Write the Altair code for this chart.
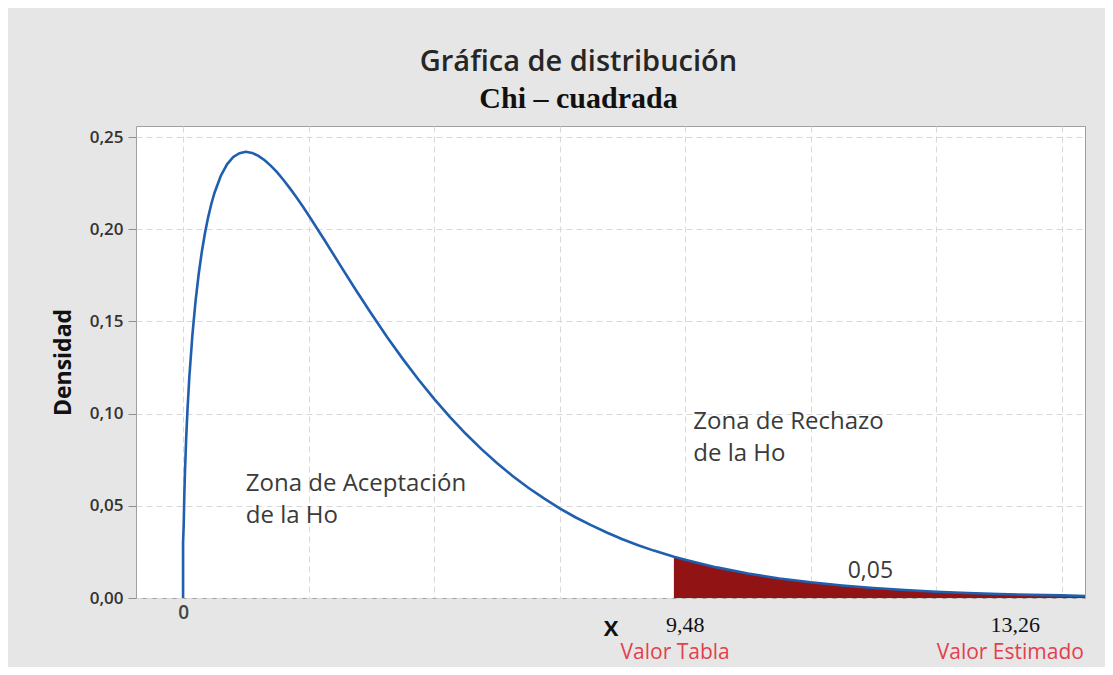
import altair as alt
import pandas as pd

# Values (x, density)
x_vals = [0.0, 0.0, 0.01, 0.02, 0.03, 0.05, 0.07, 0.1, 0.15, 0.2, 0.25, 0.3, 0.35,
          0.4, 0.45, 0.5, 0.6, 0.7, 0.8, 0.9, 1.0, 1.1, 1.2, 1.3, 1.4, 1.5, 1.6,
          1.7, 1.8, 1.9, 2.0, 2.25, 2.5, 2.75, 3.0, 3.25, 3.5, 3.75, 4.0, 4.25,
          4.5, 4.75, 5.0, 5.25, 5.5, 5.75, 6.0, 6.25, 6.5, 6.75, 7.0, 7.25, 7.5,
          7.82, 8.0, 8.5, 9.0, 9.5, 10.0, 10.5, 11.0, 11.5, 12.0, 12.5, 13.0,
          13.5, 14.0, 14.37]
dens_vals = [0.0, 0.030, 0.0397, 0.0559, 0.0681, 0.0870, 0.1019, 0.1200, 0.1433,
             0.1614, 0.1760, 0.1881, 0.1981, 0.2066, 0.2137, 0.2197, 0.2289,
             0.2352, 0.2392, 0.2413, 0.2420, 0.2414, 0.2398, 0.2374, 0.2344,
             0.2308, 0.2267, 0.2223, 0.2176, 0.2127, 0.2076, 0.1943, 0.1807,
             0.1672, 0.1542, 0.1416, 0.1297, 0.1185, 0.1080, 0.0982, 0.0892,
             0.0809, 0.0732, 0.0662, 0.0598, 0.0540, 0.0486, 0.0438, 0.0395,
             0.0355, 0.0319, 0.0286, 0.0257, 0.0224, 0.0207, 0.0166, 0.0133,
             0.0106, 0.0085, 0.0068, 0.0054, 0.0043, 0.0034, 0.0027, 0.0022,
             0.0017, 0.0014, 0.0011]
critical_x = 7.82

zone_text = ["Zona de Aceptación", "de la Ho", "Zona de Rechazo", "de la Ho", "0,05"]
zone_x = [1.0, 1.0, 8.13, 8.13, 10.95]
zone_y = [0.062, 0.0445, 0.0957, 0.0783, 0.0147]
zone_align = ["left", "left", "left", "left", "center"]

value_text = ["9,48", "13,26"]
value_x = [8.0, 13.26]
value_y = [-0.0145, -0.0145]

red_text = ["Valor Tabla", "Valor Estimado"]
red_x = [7.84, 13.18]
red_y = [-0.0297, -0.0297]

df = pd.DataFrame({"x": x_vals, "densidad": dens_vals})
tail = df[df["x"] >= critical_x]
zones = pd.DataFrame({"t": zone_text, "x": zone_x, "y": zone_y, "a": zone_align})
vals = pd.DataFrame({"t": value_text, "x": value_x, "y": value_y})
reds = pd.DataFrame({"t": red_text, "x": red_x, "y": red_y})

xscale = alt.Scale(domain=[-0.75, 14.37], nice=False, zero=False)
yscale = alt.Scale(domain=[0, 0.256], nice=False)

xaxis = alt.Axis(values=[0, 2, 4, 6, 8, 10, 12, 14], ticks=False, domain=False,
                 labelExpr="datum.value == 0 ? '0' : ''", labelFontSize=19,
                 labelFont="Open Sans", labelFontWeight=600, labelColor="#444444",
                 labelPadding=5,
                 title="X", titleFont="Open Sans", titleFontSize=22, titleFontWeight="bold",
                 titleColor="#111111", titlePadding=-4,
                 gridDash=[6, 4], gridColor="#d8d8d8")
yaxis = alt.Axis(values=[0, 0.05, 0.10, 0.15, 0.20, 0.25], tickSize=8, tickColor="#909090",
                 domain=False, labelExpr="replace(format(datum.value, '.2f'), '.', ',')",
                 labelFontSize=17, labelFont="Open Sans", labelFontWeight=600,
                 labelColor="#333333", labelPadding=5,
                 title="Densidad", titleFont="Open Sans", titleFontSize=23,
                 titleFontWeight="bold", titleColor="#111111", titlePadding=14,
                 gridDash=[6, 4], gridColor="#d8d8d8")

area = alt.Chart(tail).mark_area(color="#921313", interpolate="linear").encode(
    x=alt.X("x:Q", scale=xscale, axis=xaxis),
    y=alt.Y("densidad:Q", scale=yscale, axis=yaxis),
)

line = alt.Chart(df).mark_line(color="#1f5fae", strokeWidth=2.6).encode(
    x=alt.X("x:Q", scale=xscale),
    y=alt.Y("densidad:Q", scale=yscale),
)

zone_left = alt.Chart(zones[zones["a"] == "left"]).mark_text(
    align="left", baseline="middle", font="Open Sans", fontSize=24, color="#3a3a3a"
).encode(x=alt.X("x:Q", scale=xscale), y=alt.Y("y:Q", scale=yscale), text="t:N")

zone_center = alt.Chart(zones[zones["a"] == "center"]).mark_text(
    align="center", baseline="middle", font="Open Sans", fontSize=23, color="#3a3a3a"
).encode(x=alt.X("x:Q", scale=xscale), y=alt.Y("y:Q", scale=yscale), text="t:N")

val_text = alt.Chart(vals).mark_text(
    align="center", baseline="middle", font="Liberation Serif", fontSize=22, color="#111111"
).encode(x=alt.X("x:Q", scale=xscale), y=alt.Y("y:Q", scale=yscale), text="t:N")

red_label = alt.Chart(reds).mark_text(
    align="center", baseline="middle", font="Open Sans", fontSize=21, color="#e4404c"
).encode(x=alt.X("x:Q", scale=xscale), y=alt.Y("y:Q", scale=yscale), text="t:N")

chart = alt.layer(area, line, zone_left, zone_center, val_text, red_label).properties(
    width=949,
    height=472,
    autosize=alt.AutoSizeParams(type="none"),
    padding={"left": 128, "top": 118, "right": 20, "bottom": 69},
    title=alt.TitleParams(
        text="Gráfica de distribución",
        subtitle="Chi – cuadrada",
        font="Open Sans",
        fontSize=29,
        fontWeight=600,
        color="#262626",
        subtitleFont="Liberation Serif",
        subtitleFontSize=30,
        subtitleFontWeight="bold",
        subtitleColor="#111111",
        subtitlePadding=7,
        anchor="middle",
        dx=-32,
        offset=12,
    ),
).configure(background="#e6e6e6").configure_view(fill="white", stroke="#a0a0a0", strokeWidth=1)

chart.save("out.html", embed_options={"renderer": "svg", "actions": False})
